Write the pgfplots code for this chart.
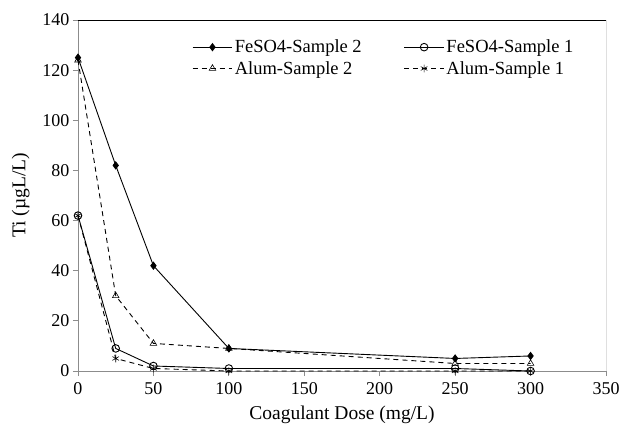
\documentclass[border=0pt]{standalone}
\usepackage{pgfplots}
\pgfplotsset{compat=1.18}
\usepackage{fontspec}
\setmainfont{Liberation Serif}
\begin{document}
\begin{tikzpicture}
\begin{axis}[
  scale only axis, width=528pt, height=351pt,
  xmin=0, xmax=350, ymin=0, ymax=140,
  xtick={0,50,...,350}, ytick={0,20,...,140},
  /pgf/number format/assume math mode=true,
  tick label style={font=\fontsize{18}{20}\selectfont},
  xticklabel style={yshift=-3pt},
  label style={font=\fontsize{19.5}{22}\selectfont},
  xlabel={Coagulant Dose (mg/L)},
  ylabel={Ti (µgL/L)},
  xlabel style={yshift=-4pt},
  ylabel style={yshift=6pt},
  tick align=outside, major tick length=5pt,
  tick style={color=black!45, line width=0.8pt},
  axis x line*=bottom, axis y line*=left,
  x axis line style={draw=black!45, line width=0.9pt, -},
  y axis line style={draw=black!45, line width=0.9pt, -},
  xtick pos=bottom, ytick pos=left,
  legend columns=2,
  legend style={draw=none, fill=none, at={(rel axis cs:0.21,0.955)}, anchor=north west,
    font=\fontsize{18.5}{20}\selectfont, row sep=3pt,
    /tikz/every even column/.append style={column sep=40pt}},
  legend cell align=left,
  legend image code/.code={
    \draw[mark repeat=2,mark phase=2,#1] plot coordinates {(0cm,0cm) (0.7cm,0cm) (1.4cm,0cm)};},
]
\draw[black, line width=0.9pt] (rel axis cs:0,1) -- (rel axis cs:1,1) -- (rel axis cs:1,0);
\addplot[black, line width=0.9pt, mark=diamond*, mark size=3.5pt] coordinates {(0,125) (25,82) (50,42) (100,9) (250,5) (300,6)};
\addlegendentry{FeSO4-Sample 2}
\addplot[black, line width=0.9pt, mark=o, mark size=3.8pt, mark options={solid, line width=0.9pt}] coordinates {(0,62) (25,9) (50,2) (100,1) (250,1) (300,0)};
\addlegendentry{FeSO4-Sample 1}
\addplot[black, line width=0.9pt, dash pattern=on 5pt off 4pt, mark=triangle, mark size=3.8pt, mark options={solid, line width=0.6pt}] coordinates {(0,124) (25,30) (50,11) (100,9) (250,3) (300,3)};
\addlegendentry{Alum-Sample 2}
\addplot[black, line width=0.9pt, dash pattern=on 5pt off 4pt, mark=asterisk, mark size=3.8pt, mark options={solid, line width=0.6pt}] coordinates {(0,62) (25,5) (50,1) (100,0) (250,0) (300,0)};
\addlegendentry{Alum-Sample 1}
\end{axis}
\path ([shift={(-78pt,-58pt)}]current axis.south west) rectangle ([shift={(17pt,20pt)}]current axis.north east);
\end{tikzpicture}
\end{document}
